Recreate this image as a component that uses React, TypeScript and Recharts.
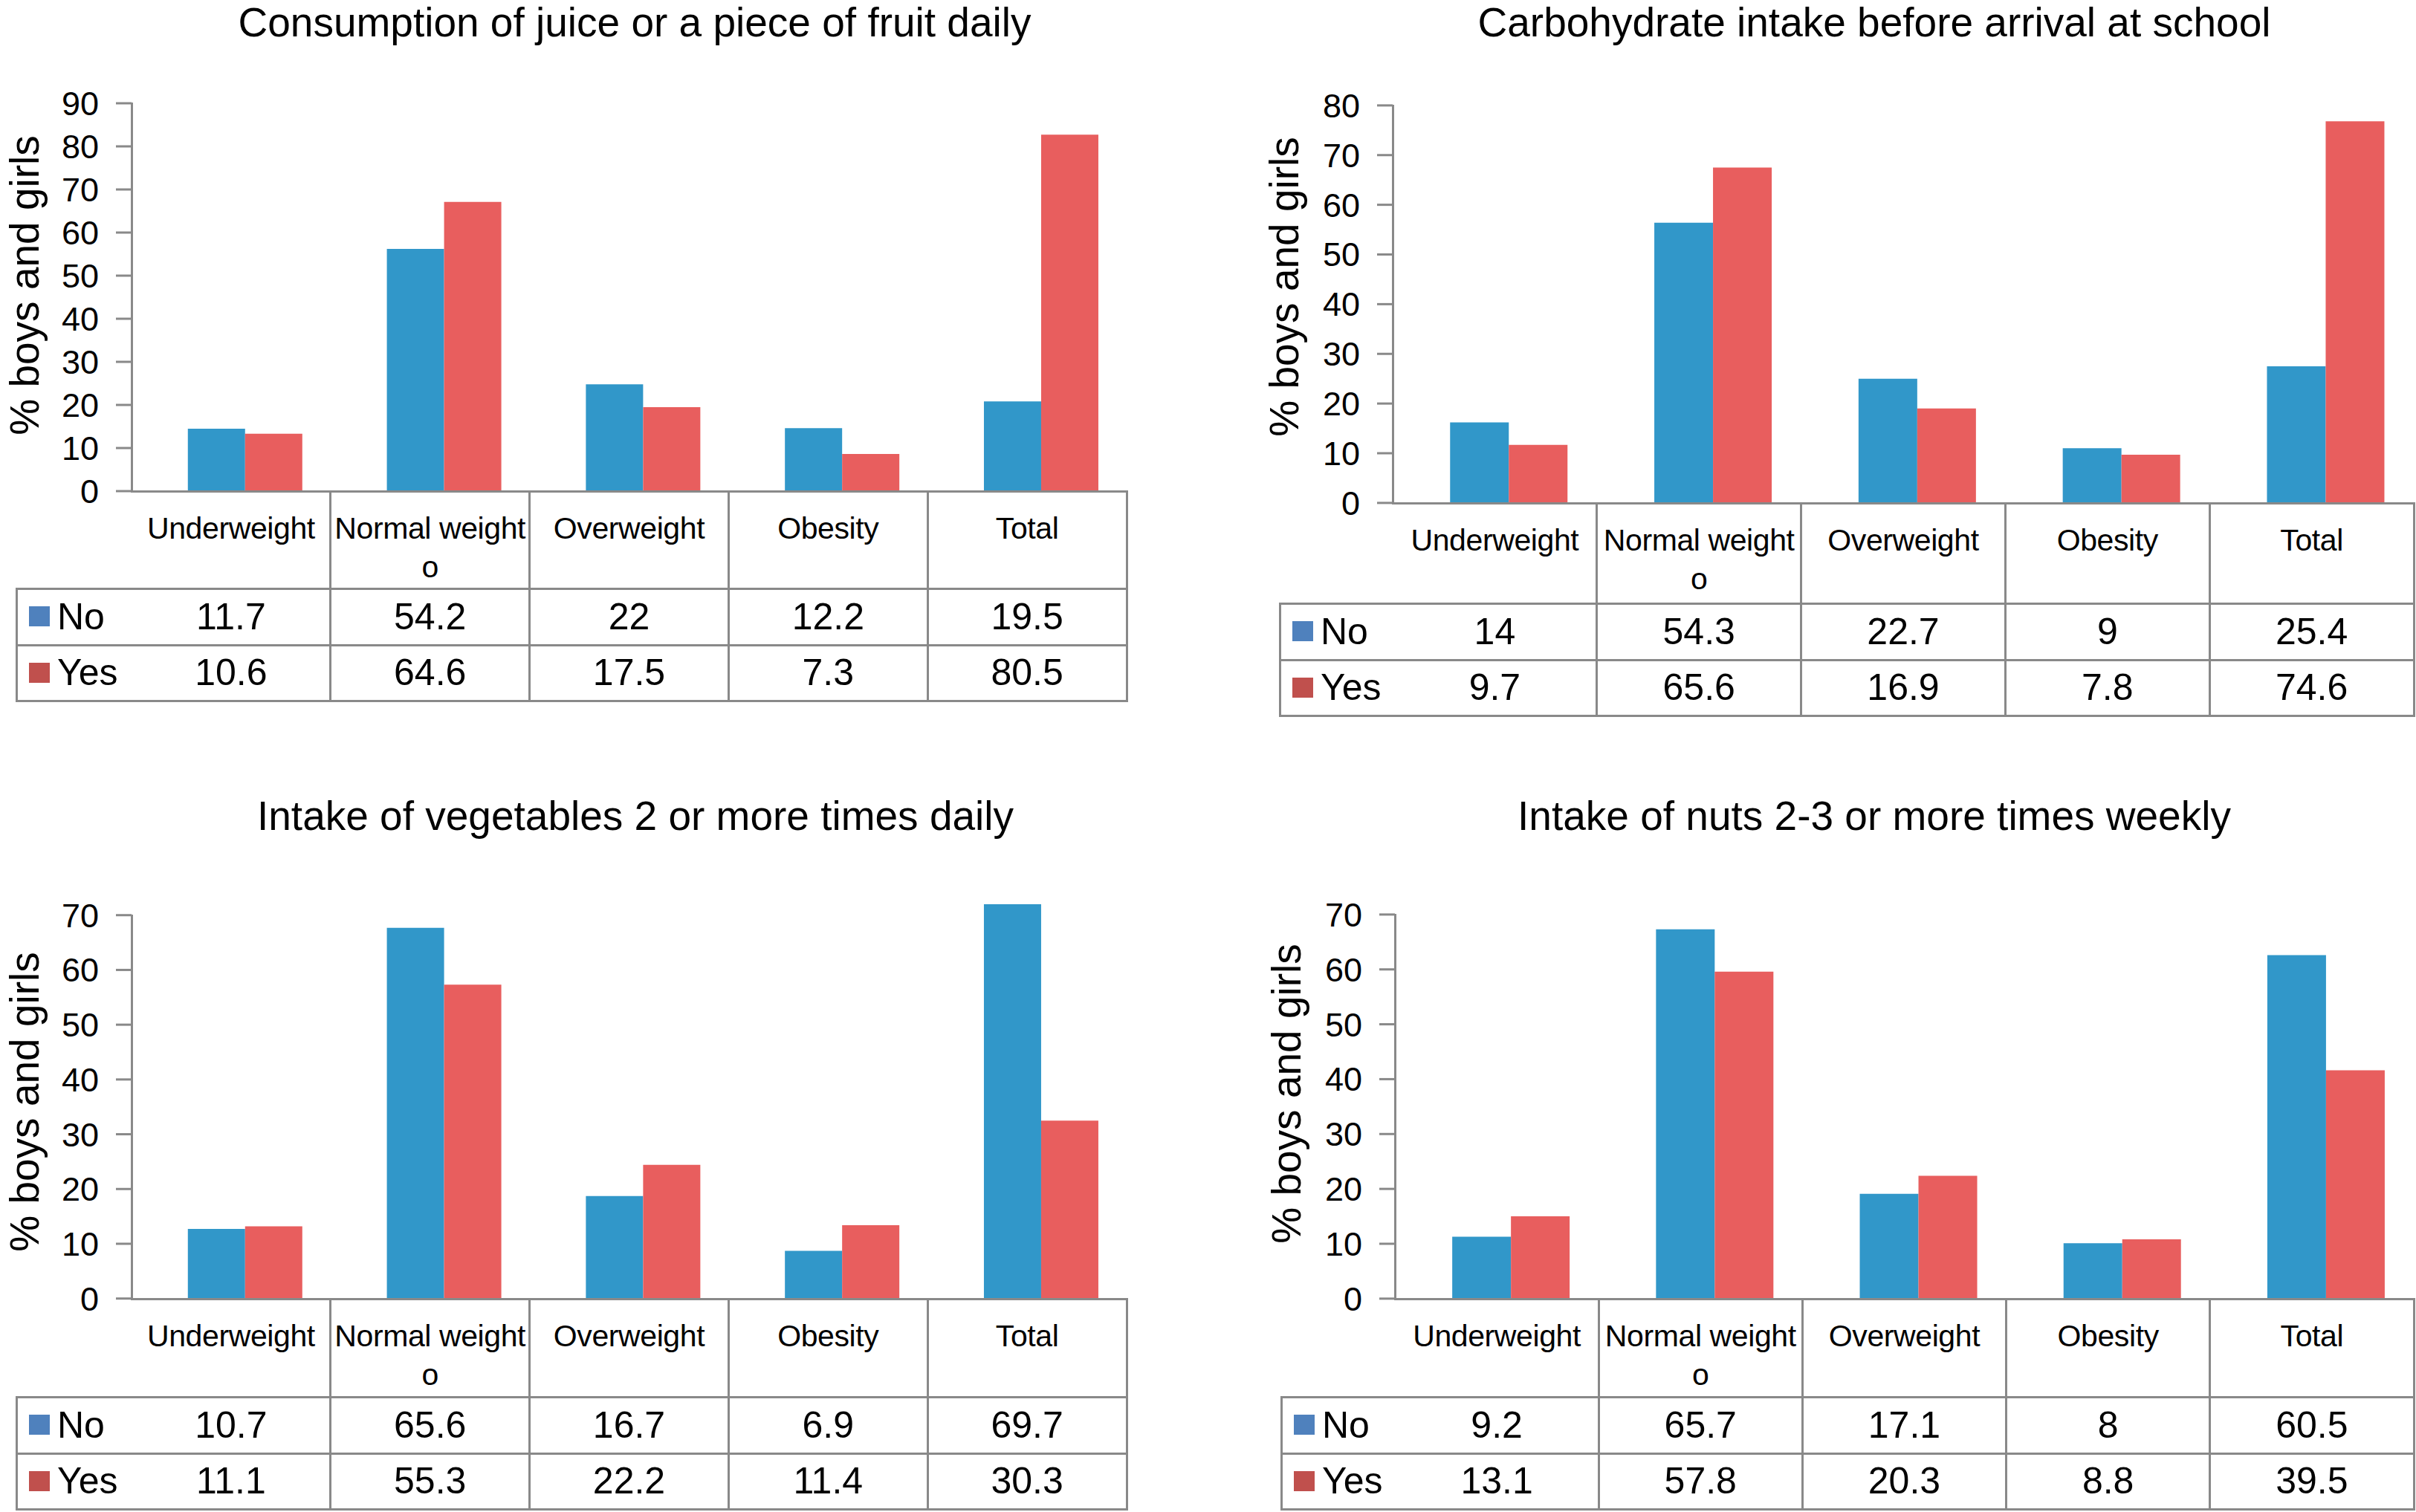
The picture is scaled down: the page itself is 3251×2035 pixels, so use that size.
import React from "react";
import { Bar, BarChart, XAxis, YAxis } from "recharts";

const CATEGORIES = ["Underweight", "Normal weight\no", "Overweight", "Obesity", "Total"];

// bar heights as drawn in the picture
const JUICE_BARS_NO = [14.5, 56.2, 24.8, 14.6, 20.8];
const JUICE_BARS_YES = [13.3, 67.1, 19.5, 8.6, 82.7];
const CARB_BARS_NO = [16.2, 56.4, 25.0, 11.0, 27.5];
const CARB_BARS_YES = [11.7, 67.5, 19.0, 9.7, 76.8];
const VEG_BARS_NO = [12.7, 67.7, 18.7, 8.7, 72.0];
const VEG_BARS_YES = [13.2, 57.3, 24.4, 13.4, 32.5];
const NUTS_BARS_NO = [11.3, 67.3, 19.1, 10.1, 62.6];
const NUTS_BARS_YES = [15.0, 59.6, 22.4, 10.8, 41.6];

// values printed in the data tables
const JUICE_TABLE_NO = ["11.7", "54.2", "22", "12.2", "19.5"];
const JUICE_TABLE_YES = ["10.6", "64.6", "17.5", "7.3", "80.5"];
const CARB_TABLE_NO = ["14", "54.3", "22.7", "9", "25.4"];
const CARB_TABLE_YES = ["9.7", "65.6", "16.9", "7.8", "74.6"];
const VEG_TABLE_NO = ["10.7", "65.6", "16.7", "6.9", "69.7"];
const VEG_TABLE_YES = ["11.1", "55.3", "22.2", "11.4", "30.3"];
const NUTS_TABLE_NO = ["9.2", "65.7", "17.1", "8", "60.5"];
const NUTS_TABLE_YES = ["13.1", "57.8", "20.3", "8.8", "39.5"];

const TICKS_90 = [0, 10, 20, 30, 40, 50, 60, 70, 80, 90];
const TICKS_80 = [0, 10, 20, 30, 40, 50, 60, 70, 80];
const TICKS_70 = [0, 10, 20, 30, 40, 50, 60, 70];

const FONT = '"Liberation Sans", Arial, Helvetica, sans-serif';
const GRID = "#898989";
const NO_BAR = "#3197C9";
const YES_BAR = "#E85E5E";
const NO_KEY = "#4F81BD";
const YES_KEY = "#C0504D";

type Layout = {
  titleX: number;
  titleTop: number;
  labelX: number;
  labelY: number;
  legendLeft: number;
  axisX: number;
  right: number;
  yTop: number;
  yZero: number;
  headerBottom: number;
  noBottom: number;
  yesBottom: number;
};

type PanelProps = {
  title: string;
  ticks: number[];
  barsNo: number[];
  barsYes: number[];
  tableNo: string[];
  tableYes: string[];
  layout: Layout;
};

function Line({ x, y, w, h }: { x: number; y: number; w: number; h: number }) {
  return <div style={{ position: "absolute", left: x, top: y, width: w, height: h, background: GRID }} />;
}

function Panel({ title, ticks, barsNo, barsYes, tableNo, tableYes, layout: L }: PanelProps) {
  const data = CATEGORIES.map((name, i) => ({ name, no: barsNo[i], yes: barsYes[i] }));
  const yMax = ticks[ticks.length - 1];
  // one extra step of headroom so bars a little above the top tick are not clipped;
  // the visible axis line stops at the top tick
  const domainMax = yMax + 10;
  const yAxisW = 150;
  const mTop = 30;
  const mRight = 40;
  const mBottom = 40;
  const plotW = L.right - L.axisX;
  const plotH = ((L.yZero - L.yTop) * domainMax) / yMax;
  const plotTop = L.yZero - plotH;
  const colW = plotW / CATEGORIES.length;
  const lw = 3;

  const hLines = [
    { y: L.yZero, x0: L.axisX, x1: L.right },
    { y: L.headerBottom, x0: L.legendLeft, x1: L.right },
    { y: L.noBottom, x0: L.legendLeft, x1: L.right },
    { y: L.yesBottom, x0: L.legendLeft, x1: L.right },
  ];
  const vLines = [
    { x: L.axisX, y0: L.yTop, y1: L.yZero },
    { x: L.legendLeft, y0: L.headerBottom, y1: L.yesBottom },
  ].concat(CATEGORIES.map((_, i) => ({ x: L.axisX + colW * (i + 1), y0: L.yZero, y1: L.yesBottom })));

  const rows = [
    { label: "No", color: NO_KEY, values: tableNo, top: L.headerBottom, bottom: L.noBottom },
    { label: "Yes", color: YES_KEY, values: tableYes, top: L.noBottom, bottom: L.yesBottom },
  ];

  return (
    <>
      <div
        style={{
          position: "absolute",
          left: L.titleX - 900,
          top: L.titleTop,
          width: 1800,
          textAlign: "center",
          fontSize: 55,
          lineHeight: "60px",
          whiteSpace: "nowrap",
        }}
      >
        {title}
      </div>

      <div
        style={{
          position: "absolute",
          left: L.labelX - 300,
          top: L.labelY - 32,
          width: 600,
          height: 64,
          lineHeight: "64px",
          fontSize: 55,
          textAlign: "center",
          transform: "rotate(-90deg)",
          whiteSpace: "nowrap",
        }}
      >
        % boys and girls
      </div>

      <div style={{ position: "absolute", left: L.axisX - yAxisW, top: plotTop - mTop }}>
        <BarChart
          width={yAxisW + plotW + mRight}
          height={mTop + plotH + mBottom}
          data={data}
          margin={{ top: mTop, right: mRight, bottom: mBottom, left: 0 }}
          barCategoryGap="21.2%"
          barGap={0}
        >
          <XAxis dataKey="name" hide padding={{ left: 19, right: -19 }} />
          <YAxis
            type="number"
            width={yAxisW}
            domain={[0, domainMax]}
            ticks={ticks}
            interval={0}
            tickSize={21}
            tickMargin={23}
            axisLine={false}
            tickLine={{ stroke: GRID, strokeWidth: 3 }}
            tick={{ fill: "#000", fontSize: 45, fontFamily: FONT }}
          />
          <Bar dataKey="no" fill={NO_BAR} isAnimationActive={false} />
          <Bar dataKey="yes" fill={YES_BAR} isAnimationActive={false} />
        </BarChart>
      </div>

      {hLines.map((l, i) => (
        <Line key={"h" + i} x={l.x0 - lw / 2} y={l.y - lw / 2} w={l.x1 - l.x0 + lw} h={lw} />
      ))}
      {vLines.map((l, i) => (
        <Line key={"v" + i} x={l.x - lw / 2} y={l.y0 - lw / 2} w={lw} h={l.y1 - l.y0 + lw} />
      ))}

      {CATEGORIES.map((c, i) => (
        <div
          key={c}
          style={{
            position: "absolute",
            left: L.axisX + colW * i,
            top: L.yZero,
            width: colW,
            paddingTop: 24,
            textAlign: "center",
            fontSize: 41,
            lineHeight: "52px",
            whiteSpace: "pre",
            letterSpacing: -0.4,
          }}
        >
          {c}
        </div>
      ))}

      {rows.map((r) => (
        <React.Fragment key={r.label}>
          <div
            style={{
              position: "absolute",
              left: L.legendLeft + 17,
              top: (r.top + r.bottom) / 2 - 14,
              width: 28,
              height: 27,
              background: r.color,
            }}
          />
          <div
            style={{
              position: "absolute",
              left: L.legendLeft + 55,
              top: r.top,
              height: r.bottom - r.top,
              lineHeight: `${r.bottom - r.top}px`,
              fontSize: 50,
            }}
          >
            {r.label}
          </div>
          {r.values.map((v, i) => (
            <div
              key={i}
              style={{
                position: "absolute",
                left: L.axisX + colW * i,
                top: r.top,
                width: colW,
                height: r.bottom - r.top,
                lineHeight: `${r.bottom - r.top}px`,
                textAlign: "center",
                fontSize: 50,
              }}
            >
              {v}
            </div>
          ))}
        </React.Fragment>
      ))}
    </>
  );
}

const TL: Layout = { titleX: 854, titleTop: 0, labelX: 33, labelY: 384, legendLeft: 22, axisX: 177, right: 1516, yTop: 139, yZero: 661, headerBottom: 792, noBottom: 868, yesBottom: 943 };
const TR: Layout = { titleX: 2522, titleTop: 0, labelX: 1728, labelY: 386, legendLeft: 1722, axisX: 1874, right: 3248, yTop: 142, yZero: 677, headerBottom: 812, noBottom: 888, yesBottom: 963 };
const BL: Layout = { titleX: 855, titleTop: 1068, labelX: 33, labelY: 1483, legendLeft: 22, axisX: 177, right: 1516, yTop: 1232, yZero: 1748, headerBottom: 1880, noBottom: 1956, yesBottom: 2031 };
const BR: Layout = { titleX: 2522, titleTop: 1068, labelX: 1731, labelY: 1472, legendLeft: 1724, axisX: 1877, right: 3248, yTop: 1231, yZero: 1748, headerBottom: 1880, noBottom: 1956, yesBottom: 2031 };

export default function App() {
  return (
    <div
      style={{
        position: "absolute",
        left: 0,
        top: 0,
        width: 3251,
        height: 2035,
        background: "#fff",
        overflow: "hidden",
        fontFamily: FONT,
        color: "#000",
      }}
    >
      <Panel
        title="Consumption of juice or a piece of fruit daily"
        ticks={TICKS_90}
        barsNo={JUICE_BARS_NO}
        barsYes={JUICE_BARS_YES}
        tableNo={JUICE_TABLE_NO}
        tableYes={JUICE_TABLE_YES}
        layout={TL}
      />
      <Panel
        title="Carbohydrate intake before arrival at school"
        ticks={TICKS_80}
        barsNo={CARB_BARS_NO}
        barsYes={CARB_BARS_YES}
        tableNo={CARB_TABLE_NO}
        tableYes={CARB_TABLE_YES}
        layout={TR}
      />
      <Panel
        title="Intake of vegetables 2 or more times daily"
        ticks={TICKS_70}
        barsNo={VEG_BARS_NO}
        barsYes={VEG_BARS_YES}
        tableNo={VEG_TABLE_NO}
        tableYes={VEG_TABLE_YES}
        layout={BL}
      />
      <Panel
        title="Intake of nuts 2-3 or more times weekly"
        ticks={TICKS_70}
        barsNo={NUTS_BARS_NO}
        barsYes={NUTS_BARS_YES}
        tableNo={NUTS_TABLE_NO}
        tableYes={NUTS_TABLE_YES}
        layout={BR}
      />
    </div>
  );
}
